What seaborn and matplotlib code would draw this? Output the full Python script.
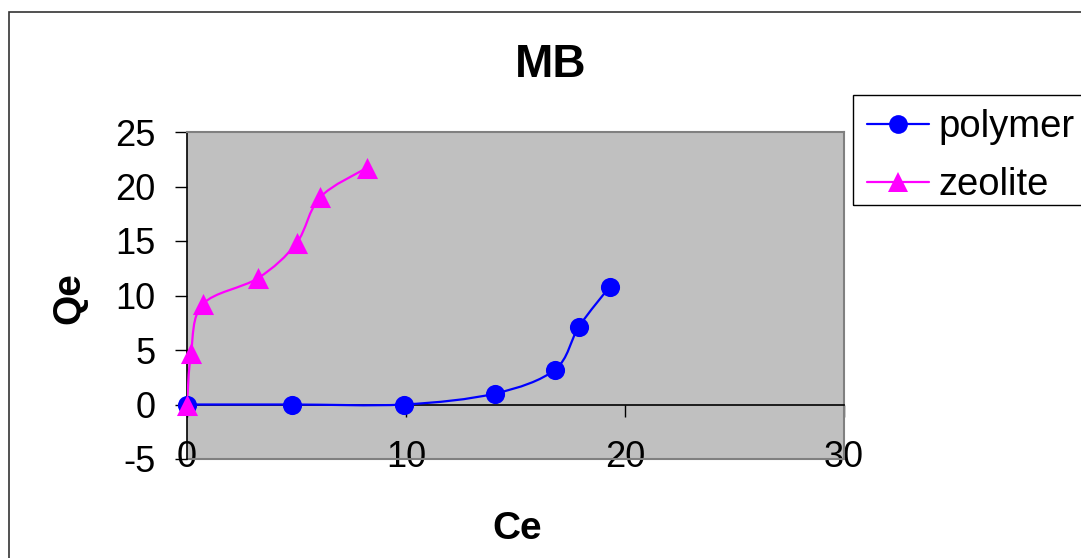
import numpy as np
import pandas as pd
import seaborn as sns
import matplotlib
matplotlib.use("Agg")
import matplotlib.pyplot as plt
from matplotlib.path import Path
from matplotlib.patches import PathPatch, Rectangle
from matplotlib.lines import Line2D

# Equilibrium data for methylene blue adsorption
polymer_ce = [0.0, 4.8, 9.9, 14.05, 16.8, 17.9, 19.3]
polymer_qe = [0.0, 0.0, 0.0, 1.0, 3.2, 7.15, 10.8]
zeolite_ce = [0.0, 0.18, 0.72, 3.25, 5.0, 6.07, 8.2]
zeolite_qe = [0.0, 4.7, 9.2, 11.6, 14.8, 19.0, 21.7]

x_ticks = [0, 10, 20, 30]
y_ticks = [-5, 0, 5, 10, 15, 20, 25]

sns.set_style("white")
plt.rcParams["font.family"] = ["Liberation Sans", "DejaVu Sans"]
plt.rcParams["text.color"] = "black"
plt.rcParams["xtick.color"] = "black"
plt.rcParams["ytick.color"] = "black"
plt.rcParams["xtick.labelcolor"] = "black"
plt.rcParams["ytick.labelcolor"] = "black"

BLUE = "#0000FF"
MAGENTA = "#FF00FF"


def smooth_path(xs, ys):
    """Cubic Bezier path through the points (spreadsheet-style smoothed line)."""
    pts = np.column_stack([xs, ys]).astype(float)
    n = len(pts)
    verts = [pts[0]]
    codes = [Path.MOVETO]
    for i in range(n - 1):
        p0 = pts[i - 1] if i > 0 else pts[i]
        p1 = pts[i]
        p2 = pts[i + 1]
        p3 = pts[i + 2] if i + 2 < n else pts[i + 1]
        verts += [p1 + (p2 - p0) / 6.0, p2 - (p3 - p1) / 6.0, p2]
        codes += [Path.CURVE4] * 3
    return Path(verts, codes)


W, H = 1081, 558
fig = plt.figure(figsize=(W / 100, H / 100), dpi=100)
ax = fig.add_axes([187 / W, 1 - 459 / H, (844 - 187) / W, (459 - 132) / H])
ax.set_facecolor("#C0C0C0")
ax.set_xlim(0, 30)
ax.set_ylim(-5, 25)

# smoothed connecting lines
for xs, ys, c in [(polymer_ce, polymer_qe, BLUE), (zeolite_ce, zeolite_qe, MAGENTA)]:
    ax.add_patch(PathPatch(smooth_path(xs, ys), transform=ax.transData,
                           fill=False, edgecolor=c, lw=1.6, zorder=3))

# markers
df_p = pd.DataFrame({"Ce": polymer_ce, "Qe": polymer_qe})
df_z = pd.DataFrame({"Ce": zeolite_ce, "Qe": zeolite_qe})
sns.scatterplot(data=df_p, x="Ce", y="Qe", ax=ax, color=BLUE, marker="o",
                s=190, linewidth=0, zorder=4, clip_on=False)
sns.scatterplot(data=df_z, x="Ce", y="Qe", ax=ax, color=MAGENTA, marker="^",
                s=230, linewidth=0, zorder=5, clip_on=False)
ax.set_xlabel("")
ax.set_ylabel("")

# plot-area border
for side in ["top", "right"]:
    ax.spines[side].set_color("#808080")
    ax.spines[side].set_linewidth(1.5)
ax.spines["left"].set_color("black")
ax.spines["left"].set_linewidth(1.2)

# category axis drawn through y = 0, with tick marks only
ax.spines["bottom"].set_position(("data", 0))
ax.spines["bottom"].set_color("black")
ax.spines["bottom"].set_linewidth(1.2)
ax.set_xticks(x_ticks)
ax.tick_params(axis="x", direction="out", length=8.6, width=1, color="black",
               labelbottom=False, bottom=True)

# tick labels sit on the lower edge of the plot area
sec = ax.secondary_xaxis("bottom")
sec.spines["bottom"].set_color("#808080")
sec.spines["bottom"].set_linewidth(1.5)
sec.set_xticks(x_ticks, labels=[str(v) for v in x_ticks], va="center")
sec.tick_params(axis="x", length=0, pad=-1, labelsize=26, labelcolor="black")

ax.set_yticks(y_ticks)
ax.set_yticklabels([str(v) for v in y_ticks])
ax.tick_params(axis="y", direction="out", length=8.6, width=1, color="black",
               pad=14, labelsize=26, left=True, labelcolor="black")

fig.text(551 / W, 1 - 65 / H, "MB", ha="center", va="center",
         fontsize=33, fontweight="bold", color="black")
fig.text(517 / W, 1 - 539 / H, "Ce", ha="center", va="baseline",
         fontsize=28, fontweight="bold", color="black")
fig.text(69 / W, 1 - 298 / H, "Qe", ha="center", va="center", rotation=90,
         fontsize=28, fontweight="bold", color="black")

handles = [
    Line2D([], [], color=BLUE, lw=1.6, marker="o", markersize=13.5,
           markeredgewidth=0),
    Line2D([], [], color=MAGENTA, lw=1.6, marker="^", markersize=15,
           markeredgewidth=0),
]
leg = fig.legend(handles, ["polymer", "zeolite"], loc="upper left",
                 bbox_to_anchor=(852 / W, 1 - 94.7 / H),
                 bbox_transform=fig.transFigure, fontsize=27.5,
                 frameon=False, handlelength=1.63, handletextpad=0.26,
                 borderpad=0.38, borderaxespad=0, labelspacing=0.58)
for t in leg.get_texts():
    t.set_color("black")

# legend frame
fig.patches.append(Rectangle((852.5 / W, 1 - 205 / H), 0.3, (205 - 94.7) / H,
                             transform=fig.transFigure, fill=False,
                             edgecolor="black", lw=1.0))

# outer chart border
fig.patches.append(Rectangle((8.5 / W, -0.2), 1.2, 1.2 - 11.5 / H,
                             transform=fig.transFigure, fill=False,
                             edgecolor="#333333", lw=1.2))

fig.savefig("out.png", dpi=100)
